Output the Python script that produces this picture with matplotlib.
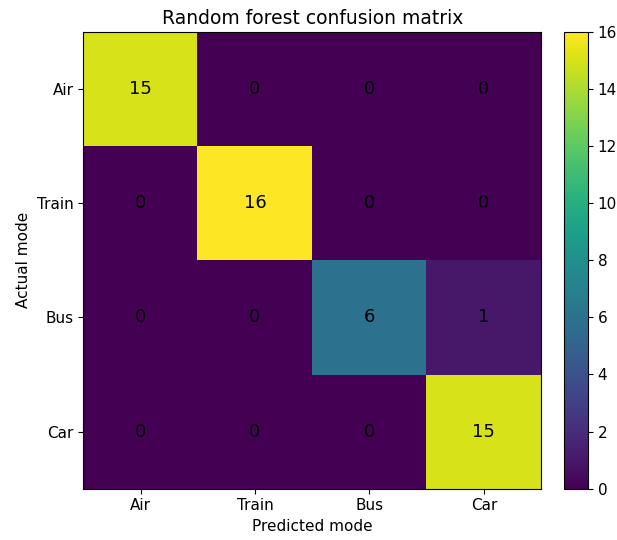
import numpy as np
import matplotlib.pyplot as plt

modes = ['Air', 'Train', 'Bus', 'Car']
cm = np.array([[15, 0, 0, 0],
               [0, 16, 0, 0],
               [0, 0, 6, 1],
               [0, 0, 0, 15]])

fig = plt.figure(figsize=(6.17, 5.4), dpi=100)
ax = fig.add_axes([0.135, 0.095, 0.742, 0.846])
cax = fig.add_axes([0.914, 0.095, 0.039, 0.846])

im = ax.imshow(cm, cmap='viridis', aspect='auto')
fig.colorbar(im, cax=cax)

for i in range(len(modes)):
    for j in range(len(modes)):
        ax.text(j, i, str(cm[i, j]), ha='center', va='center', fontsize=13, color='k')

ax.set_xticks(range(len(modes)))
ax.set_xticklabels(modes, fontsize=11)
ax.set_yticks(range(len(modes)))
ax.set_yticklabels(modes, fontsize=11)
cax.tick_params(labelsize=11)
ax.set_xlabel('Predicted mode', fontsize=11)
ax.set_ylabel('Actual mode', fontsize=11)
ax.set_title('Random forest confusion matrix', fontsize=13.5)

fig.savefig('out.png', dpi=100)
